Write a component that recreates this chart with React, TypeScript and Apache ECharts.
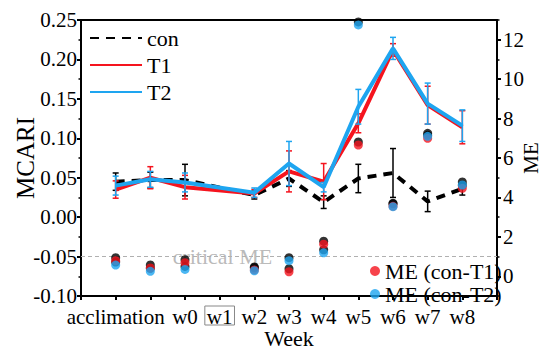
import React, { useEffect, useRef } from 'react';
import * as echarts from 'echarts';

// x positions 0..12; data sampled at these positions
const tickLabels = ['', 'acclimation', '', 'w0', 'w1', 'w2', 'w3', 'w4', 'w5', 'w6', 'w7', 'w8', ''];
const samplePos = [1, 2, 3, 5, 6, 7, 8, 9, 10, 11];

// MCARI (left axis)
const conMean = [0.045, 0.047, 0.047, 0.028, 0.049, 0.019, 0.049, 0.056, 0.020, 0.036];
const conErr = [0.011, 0.010, 0.020, 0.005, 0.010, 0.008, 0.018, 0.031, 0.013, 0.008];
const t1Mean = [0.035, 0.050, 0.038, 0.030, 0.058, 0.045, 0.119, 0.212, 0.142, 0.114];
const t1Err = [0.011, 0.014, 0.015, 0.005, 0.026, 0.023, 0.012, 0.008, 0.024, 0.021];
const t2Mean = [0.040, 0.048, 0.044, 0.031, 0.068, 0.038, 0.140, 0.214, 0.144, 0.116];
const t2Err = [0.012, 0.010, 0.012, 0.006, 0.028, 0.006, 0.022, 0.014, 0.026, 0.020];

// ME (right axis)
const meT1 = [0.79, 0.42, 0.69, 0.32, 0.23, 1.63, 6.66, 3.55, 7.0, 4.46];
const meT2 = [0.57, 0.25, 0.35, 0.28, 0.79, 1.19, 12.75, 3.53, 7.1, 4.63];
const criticalME = 1;
const criticalLabelPos = 4.08;

const rightTicks = [0, 2, 4, 6, 8, 10, 12];
const rightMinorTicks = [-1, 1, 3, 5, 7, 9, 11, 13];

const RED = '#f5141e';
const BLUE = '#1ea5f0';
const FONT = 'Liberation Serif';

function pts(vals: number[]) {
  return samplePos.map((p, i) => [p, vals[i]]);
}

function errSeries(color: string, mean: number[], err: number[], z: number) {
  return {
    type: 'custom',
    xAxisIndex: 0,
    yAxisIndex: 0,
    z,
    silent: true,
    encode: { x: 0, y: [1, 2] },
    data: samplePos.map((p, i) => [p, mean[i] - err[i], mean[i] + err[i]]),
    renderItem: (params: any, api: any) => {
      const x = api.value(0);
      const top = api.coord([x, api.value(2)]);
      const bot = api.coord([x, api.value(1)]);
      const cap = 3;
      const style = { stroke: color, lineWidth: 1.5 };
      return {
        type: 'group',
        children: [
          { type: 'line', shape: { x1: top[0], y1: top[1], x2: bot[0], y2: bot[1] }, style },
          { type: 'line', shape: { x1: top[0] - cap, y1: top[1], x2: top[0] + cap, y2: top[1] }, style },
          { type: 'line', shape: { x1: bot[0] - cap, y1: bot[1], x2: bot[0] + cap, y2: bot[1] }, style },
        ],
      };
    },
  };
}

export default function App() {
  const ref = useRef<HTMLDivElement>(null);
  useEffect(() => {
    if (!ref.current) return;
    const chart = echarts.init(ref.current, undefined, { renderer: 'svg' });
    const axisLineStyle = { color: '#000', width: 2 };
    const txt = { fontFamily: FONT, color: '#000' };
    chart.setOption({
      animation: false,
      backgroundColor: '#fff',
      textStyle: { fontFamily: FONT },
      grid: { left: 81, right: 45, top: 20, bottom: 53, containLabel: false, outerBoundsMode: 'none' },
      legend: [
        {
          data: ['con', 'T1', 'T2'],
          orient: 'vertical',
          left: 84,
          top: 22,
          itemWidth: 52,
          itemHeight: 14,
          itemGap: 5,
          itemStyle: { opacity: 0 },
          textStyle: { ...txt, fontSize: 22 },
        },
        {
          data: ['ME (con-T1)', 'ME (con-T2)'],
          orient: 'vertical',
          left: 365,
          top: 255,
          itemWidth: 10,
          itemHeight: 10,
          itemGap: 1,
          textStyle: { ...txt, fontSize: 22 },
        },
      ],
      xAxis: [
        {
          type: 'value',
          min: 0,
          max: 12,
          interval: 1,
          name: 'Week',
          nameLocation: 'middle',
          nameGap: 31,
          nameMoveOverlap: false,
          nameTextStyle: { ...txt, fontSize: 22 },
          axisLine: { show: true, onZero: false, lineStyle: axisLineStyle },
          axisTick: { show: true, inside: false, length: 4, lineStyle: { color: '#000', width: 2 } },
          splitLine: { show: false },
          axisLabel: {
            margin: 10,
            ...txt,
            fontSize: 21,
            hideOverlap: false,
            formatter: (v: number) => {
              const l = tickLabels[Math.round(v)] || '';
              return l === 'w1' ? '{box|w1}' : l;
            },
            rich: {
              box: {
                ...txt,
                fontSize: 21,
                borderColor: '#888',
                borderWidth: 1,
                padding: [0, 2, -2, 2],
              },
            },
          },
        },
        {
          type: 'value',
          position: 'top',
          min: 0,
          max: 12,
          interval: 1,
          axisLine: { show: true, onZero: false, lineStyle: axisLineStyle },
          axisTick: { show: false },
          axisLabel: { show: false },
          splitLine: { show: false },
        },
      ],
      yAxis: [
        {
          type: 'value',
          min: -0.1,
          max: 0.25,
          interval: 0.05,
          name: 'MCARI',
          nameLocation: 'middle',
          nameRotate: 90,
          nameGap: 43,
          nameMoveOverlap: false,
          nameTextStyle: { ...txt, fontSize: 25 },
          axisLine: { show: true, onZero: false, lineStyle: axisLineStyle },
          axisTick: { show: true, length: 4, lineStyle: { color: '#000', width: 2 } },
          minorTick: { show: true, splitNumber: 2, length: 2.5, lineStyle: { color: '#000', width: 1.5 } },
          splitLine: { show: false },
          axisLabel: {
            margin: 4,
            ...txt,
            fontSize: 21,
            formatter: (v: number) => v.toFixed(2),
          },
        },
        {
          type: 'value',
          position: 'right',
          min: -1,
          max: 13,
          name: 'ME',
          nameLocation: 'middle',
          nameRotate: 90,
          nameGap: 23,
          nameMoveOverlap: false,
          nameTextStyle: { ...txt, fontSize: 21 },
          axisLine: { show: true, onZero: false, lineStyle: axisLineStyle },
          axisTick: { show: true, length: 4, customValues: rightTicks, lineStyle: { color: '#000', width: 2 } },
          splitLine: { show: false },
          axisLabel: {
            margin: 6,
            ...txt,
            fontSize: 21,
            customValues: rightTicks,
          },
        },
        {
          type: 'value',
          position: 'right',
          min: -1,
          max: 13,
          axisLine: { show: false, onZero: false },
          axisTick: { show: true, length: 2.5, customValues: rightMinorTicks, lineStyle: { color: '#000', width: 1.5 } },
          axisLabel: { show: false },
          splitLine: { show: false },
        },
      ],
      series: [
        {
          name: 'critical',
          type: 'scatter',
          xAxisIndex: 0,
          yAxisIndex: 1,
          z: 1,
          symbolSize: 0,
          silent: true,
          data: [[criticalLabelPos, criticalME]],
          label: {
            show: true,
            position: 'inside',
            formatter: 'critical ME',
            fontFamily: FONT,
            fontSize: 22,
            color: '#a8a8a8',
            backgroundColor: '#fff',
            padding: [0, 2],
          },
          markLine: {
            silent: true,
            symbol: 'none',
            label: { show: false },
            lineStyle: { color: '#b0b0b0', type: [4, 3], width: 1 },
            data: [{ yAxis: criticalME }],
          },
        },
        {
          name: 'con',
          type: 'line',
          xAxisIndex: 0,
          yAxisIndex: 0,
          z: 3,
          symbol: 'none',
          data: pts(conMean),
          itemStyle: { color: '#000' },
          lineStyle: { color: '#000', width: 4, type: [9, 7] },
        },
        errSeries('#000', conMean, conErr, 3),
        {
          name: 'T1',
          type: 'line',
          xAxisIndex: 0,
          yAxisIndex: 0,
          z: 4,
          symbol: 'none',
          data: pts(t1Mean),
          itemStyle: { color: RED },
          lineStyle: { color: RED, width: 4 },
        },
        errSeries(RED, t1Mean, t1Err, 4),
        {
          name: 'T2',
          type: 'line',
          xAxisIndex: 0,
          yAxisIndex: 0,
          z: 5,
          symbol: 'none',
          data: pts(t2Mean),
          itemStyle: { color: BLUE },
          lineStyle: { color: BLUE, width: 4 },
        },
        errSeries(BLUE, t2Mean, t2Err, 5),
        {
          name: 'shade1',
          type: 'scatter',
          xAxisIndex: 0,
          yAxisIndex: 1,
          z: 6,
          symbolSize: 9,
          symbolOffset: [0, -3],
          data: pts(meT1),
          itemStyle: { color: '#000' },
        },
        {
          name: 'shade2',
          type: 'scatter',
          xAxisIndex: 0,
          yAxisIndex: 1,
          z: 6,
          symbolSize: 9,
          symbolOffset: [0, -3],
          data: pts(meT2),
          itemStyle: { color: '#000' },
        },
        {
          name: 'ME (con-T1)',
          type: 'scatter',
          xAxisIndex: 0,
          yAxisIndex: 1,
          z: 7,
          symbolSize: 9,
          data: pts(meT1),
          itemStyle: { color: RED },
        },
        {
          name: 'ME (con-T2)',
          type: 'scatter',
          xAxisIndex: 0,
          yAxisIndex: 1,
          z: 8,
          symbolSize: 9,
          data: pts(meT2),
          itemStyle: { color: BLUE },
        },
      ],
    });
    return () => chart.dispose();
  }, []);
  return <div ref={ref} style={{ position: 'absolute', left: 0, top: 0, width: 542, height: 349 }} />;
}
